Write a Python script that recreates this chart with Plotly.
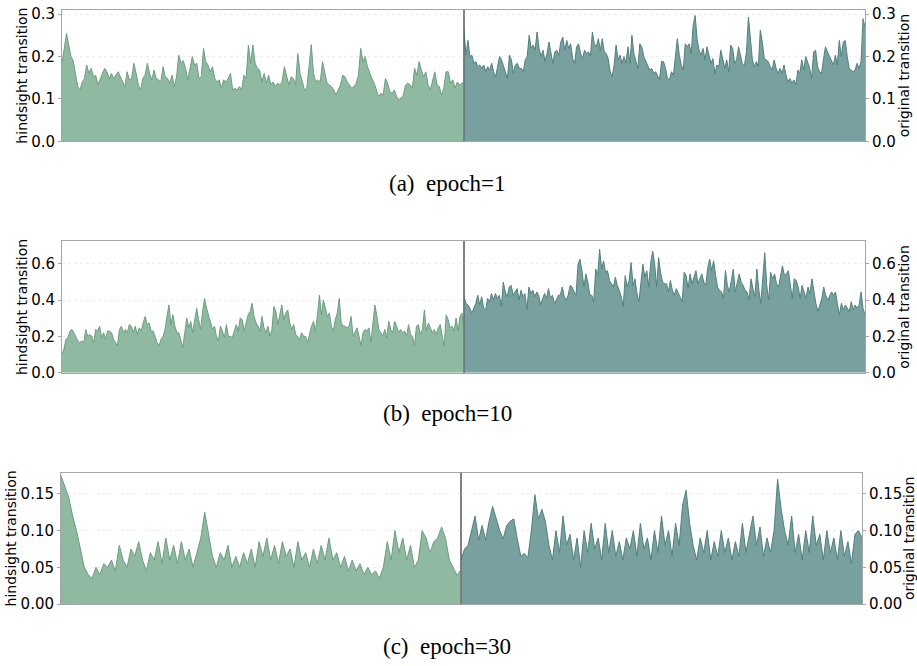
import numpy as np
import plotly.graph_objects as go

# ---------------- data ----------------
CAPTIONS = ["(a)\u2002epoch=1", "(b)\u2002epoch=10", "(c)\u2002epoch=30"]
LEFT_TITLE = "hindsight transition"
RIGHT_TITLE = "original transition"

P1_HINDSIGHT = [
    0.184, 0.22, 0.254, 0.227, 0.2, 0.19, 0.16, 0.129, 0.121, 0.14, 0.148, 0.18, 0.16, 0.172, 0.152,
    0.156, 0.133, 0.148, 0.16, 0.172, 0.164, 0.148, 0.16, 0.148, 0.156, 0.164, 0.152, 0.14, 0.129,
    0.164, 0.145, 0.148, 0.184, 0.16, 0.133, 0.121, 0.148, 0.156, 0.184, 0.16, 0.145, 0.168, 0.148,
    0.145, 0.14, 0.176, 0.152, 0.148, 0.137, 0.156, 0.129, 0.152, 0.203, 0.184, 0.19, 0.172, 0.145,
    0.172, 0.2, 0.18, 0.184, 0.148, 0.152, 0.219, 0.188, 0.18, 0.164, 0.176, 0.148, 0.14, 0.145,
    0.125, 0.145, 0.14, 0.148, 0.16, 0.121, 0.125, 0.121, 0.129, 0.121, 0.156, 0.148, 0.227, 0.184,
    0.227, 0.184, 0.172,
    0.168, 0.14, 0.16, 0.137, 0.156, 0.133, 0.14, 0.129, 0.137, 0.133, 0.14, 0.176, 0.152, 0.133,
    0.152, 0.148, 0.133, 0.207, 0.16, 0.14, 0.121, 0.125, 0.172, 0.228, 0.16, 0.14, 0.145, 0.14,
    0.188, 0.16, 0.137, 0.133, 0.129, 0.121, 0.109, 0.121, 0.133, 0.156, 0.152, 0.14, 0.133, 0.125,
    0.129, 0.137, 0.156, 0.219, 0.188, 0.2, 0.176, 0.16, 0.148, 0.137, 0.121, 0.105, 0.113, 0.109,
    0.148, 0.137, 0.117, 0.113, 0.121, 0.105, 0.098, 0.102, 0.109, 0.133, 0.137, 0.133, 0.125,
    0.172, 0.156, 0.188, 0.168, 0.152, 0.164, 0.133, 0.121, 0.14, 0.164, 0.133, 0.129, 0.109,
    0.125, 0.164, 0.164, 0.137, 0.145, 0.125, 0.14, 0.133, 0.137, 0.14,
]
P1_ORIGINAL = [
    0.262, 0.203, 0.238, 0.2, 0.203, 0.184, 0.188, 0.176, 0.18, 0.172, 0.18, 0.164, 0.176, 0.168,
    0.184, 0.164, 0.152, 0.176, 0.2, 0.192, 0.176, 0.164, 0.148, 0.203, 0.192, 0.16, 0.18, 0.184,
    0.172, 0.172, 0.164, 0.192, 0.2, 0.25, 0.219, 0.227, 0.215, 0.258, 0.219, 0.2, 0.215, 0.188,
    0.207, 0.234, 0.211, 0.184, 0.211, 0.215, 0.203, 0.234, 0.246, 0.215, 0.238, 0.219, 0.23,
    0.195, 0.184, 0.223, 0.23, 0.207, 0.195, 0.215, 0.207, 0.211, 0.2, 0.258, 0.23, 0.223, 0.242,
    0.215, 0.242, 0.211, 0.207, 0.195, 0.164, 0.152, 0.18, 0.227, 0.192, 0.203, 0.184, 0.2, 0.184,
    0.223, 0.184, 0.25, 0.207, 0.188, 0.172, 0.23, 0.223, 0.2, 0.188, 0.18, 0.168, 0.172, 0.16,
    0.164, 0.156, 0.145, 0.188,
    0.188, 0.172, 0.148, 0.145, 0.164, 0.156, 0.2, 0.242, 0.203, 0.18, 0.168, 0.23, 0.223, 0.23,
    0.207, 0.273, 0.297, 0.242, 0.215, 0.203, 0.219, 0.192, 0.223, 0.203, 0.184, 0.195, 0.16, 0.18,
    0.176, 0.215, 0.195, 0.172, 0.192, 0.164, 0.227, 0.219, 0.184, 0.192, 0.223, 0.2, 0.18, 0.18,
    0.211, 0.293, 0.238, 0.192, 0.176, 0.188, 0.176, 0.262, 0.234, 0.195, 0.192, 0.188, 0.176,
    0.168, 0.192, 0.172, 0.16, 0.172, 0.16, 0.18, 0.156, 0.14, 0.148, 0.137, 0.145, 0.133, 0.168,
    0.16, 0.192, 0.168, 0.2, 0.188, 0.172, 0.148, 0.211, 0.215, 0.176, 0.164, 0.16, 0.195, 0.223,
    0.211, 0.2, 0.188, 0.18, 0.203, 0.18, 0.238, 0.2, 0.234, 0.238, 0.2, 0.172, 0.168, 0.164, 0.168,
    0.184, 0.172, 0.188, 0.289, 0.27,
]

P2_HINDSIGHT = [
    0.103, 0.13, 0.184, 0.193, 0.229, 0.238, 0.22, 0.2, 0.175, 0.166, 0.175, 0.166, 0.238, 0.2,
    0.211, 0.2, 0.166, 0.238, 0.229, 0.256, 0.193, 0.22, 0.184, 0.229, 0.229, 0.22, 0.184, 0.166,
    0.148, 0.238, 0.256, 0.22, 0.238, 0.22, 0.265, 0.256, 0.22, 0.256, 0.211, 0.247, 0.229, 0.274,
    0.31, 0.265, 0.274, 0.229, 0.229, 0.2, 0.166, 0.148, 0.184, 0.2, 0.238, 0.31, 0.373, 0.265,
    0.319, 0.256, 0.22, 0.22, 0.184, 0.139, 0.22, 0.301, 0.247, 0.283, 0.22, 0.283, 0.355, 0.292,
    0.238, 0.337, 0.409, 0.355, 0.319, 0.274, 0.238, 0.256, 0.2, 0.175, 0.256, 0.229, 0.193, 0.265,
    0.2, 0.2, 0.193, 0.229, 0.265, 0.229, 0.301, 0.292, 0.229, 0.274, 0.319, 0.337, 0.382, 0.31,
    0.274, 0.256, 0.229, 0.31,
    0.247, 0.22, 0.256, 0.2, 0.238, 0.364, 0.337, 0.265, 0.328, 0.373, 0.292, 0.328, 0.346, 0.274,
    0.238, 0.265, 0.211, 0.2, 0.184, 0.22, 0.2, 0.2, 0.166, 0.211, 0.256, 0.283, 0.229, 0.319,
    0.427, 0.319, 0.4, 0.355, 0.31, 0.328, 0.256, 0.229, 0.292, 0.328, 0.409, 0.274, 0.256, 0.256,
    0.247, 0.256, 0.31, 0.2, 0.229, 0.247, 0.2, 0.148, 0.22, 0.238, 0.229, 0.247, 0.166, 0.274,
    0.373, 0.31, 0.238, 0.22, 0.2, 0.238, 0.193, 0.283, 0.238, 0.22, 0.283, 0.256, 0.22, 0.238,
    0.22, 0.229, 0.2, 0.265, 0.211, 0.2, 0.148, 0.256, 0.265, 0.211, 0.238, 0.346, 0.229, 0.274,
    0.247, 0.22, 0.238, 0.211, 0.247, 0.265, 0.2, 0.148, 0.319, 0.292, 0.247, 0.256, 0.229, 0.301,
    0.229, 0.31, 0.328, 0.22,
]
P2_ORIGINAL = [
    0.418, 0.382, 0.373, 0.355, 0.328, 0.355, 0.382, 0.427, 0.373, 0.418, 0.355, 0.346, 0.409,
    0.391, 0.436, 0.4, 0.436, 0.409, 0.427, 0.364, 0.499, 0.445, 0.418, 0.472, 0.481, 0.427, 0.445,
    0.463, 0.4, 0.454, 0.418, 0.436, 0.346, 0.472, 0.436, 0.454, 0.418, 0.445, 0.427, 0.373, 0.409,
    0.436, 0.409, 0.463, 0.409, 0.427, 0.382, 0.4, 0.427, 0.427, 0.472, 0.418, 0.4, 0.427, 0.481,
    0.472, 0.445, 0.427, 0.598, 0.625, 0.562, 0.472, 0.544, 0.499, 0.427, 0.427, 0.391, 0.571,
    0.535, 0.679, 0.571, 0.616, 0.553, 0.562, 0.508, 0.49, 0.472, 0.526, 0.481, 0.454, 0.418,
    0.364, 0.535, 0.472, 0.508, 0.607, 0.481, 0.517, 0.436, 0.391, 0.499, 0.598, 0.526, 0.562,
    0.472, 0.607, 0.67, 0.598, 0.472, 0.634, 0.553, 0.499, 0.49,
    0.49, 0.445, 0.508, 0.454, 0.427, 0.463, 0.436, 0.418, 0.391, 0.553, 0.535, 0.463, 0.544, 0.49,
    0.526, 0.562, 0.49, 0.517, 0.544, 0.499, 0.481, 0.58, 0.625, 0.562, 0.616, 0.535, 0.472, 0.454,
    0.445, 0.409, 0.562, 0.481, 0.445, 0.508, 0.571, 0.445, 0.49, 0.544, 0.499, 0.481, 0.454,
    0.445, 0.4, 0.517, 0.463, 0.418, 0.571, 0.454, 0.382, 0.535, 0.661, 0.481, 0.4, 0.553, 0.517,
    0.544, 0.49, 0.472, 0.544, 0.589, 0.535, 0.544, 0.562, 0.472, 0.409, 0.517, 0.508, 0.472, 0.409,
    0.481, 0.445, 0.409, 0.472, 0.436, 0.517, 0.436, 0.382, 0.337, 0.373, 0.409, 0.472, 0.427, 0.4,
    0.427, 0.445, 0.427, 0.445, 0.373, 0.319, 0.382, 0.346, 0.373, 0.355, 0.337, 0.391, 0.346,
    0.373, 0.355, 0.373, 0.445, 0.355, 0.319,
]

P3_HINDSIGHT = [
    0.175, 0.16, 0.145, 0.12, 0.1, 0.075, 0.05, 0.04, 0.035, 0.05, 0.04, 0.055, 0.05, 0.06, 0.045,
    0.08, 0.06, 0.05, 0.075, 0.065, 0.085, 0.06, 0.045, 0.07, 0.06, 0.085, 0.055, 0.09, 0.06, 0.08,
    0.055, 0.085, 0.06, 0.075, 0.05, 0.07, 0.09, 0.125, 0.095, 0.065, 0.05, 0.07, 0.06, 0.08, 0.05,
    0.065, 0.05, 0.07, 0.055, 0.075, 0.05, 0.085, 0.065, 0.09, 0.06, 0.08, 0.055, 0.085, 0.065,
    0.075, 0.05, 0.085, 0.06, 0.07, 0.05, 0.075, 0.055, 0.08, 0.06, 0.09, 0.06, 0.07, 0.05, 0.065,
    0.045, 0.06, 0.045, 0.055, 0.04, 0.05, 0.04, 0.045, 0.035, 0.05, 0.085, 0.06, 0.1, 0.07, 0.09,
    0.06, 0.08, 0.05, 0.06, 0.1, 0.09, 0.07, 0.085, 0.09, 0.105, 0.09, 0.06, 0.049, 0.039, 0.047,
]
P3_ORIGINAL = [
    0.06, 0.075, 0.08, 0.1, 0.12, 0.087, 0.107, 0.087, 0.113, 0.133, 0.116, 0.1, 0.089, 0.107,
    0.113, 0.116, 0.089, 0.065, 0.069, 0.063, 0.1, 0.149, 0.116, 0.129, 0.112, 0.08, 0.06, 0.1,
    0.07, 0.12, 0.08, 0.095, 0.06, 0.09, 0.05, 0.1, 0.07, 0.11, 0.075, 0.09, 0.06, 0.11, 0.07, 0.1,
    0.065, 0.085, 0.06, 0.09, 0.075, 0.1, 0.065, 0.11, 0.075, 0.09, 0.06, 0.1, 0.07, 0.12, 0.08,
    0.1, 0.065, 0.11, 0.08, 0.135, 0.155, 0.11, 0.08, 0.06, 0.09, 0.07, 0.1, 0.06, 0.085, 0.065,
    0.1, 0.07, 0.09, 0.06, 0.085, 0.065, 0.11, 0.07, 0.095, 0.12, 0.08, 0.105, 0.065, 0.09, 0.07,
    0.1, 0.17, 0.13, 0.1, 0.08, 0.12, 0.07, 0.095, 0.06, 0.1, 0.07, 0.12, 0.08, 0.095, 0.06, 0.1,
    0.07, 0.09, 0.06, 0.1, 0.065, 0.085, 0.055, 0.095, 0.1, 0.09,
]

Y_MAX = [0.31, 0.724, 0.179]
Y_TICKS = [[0.0, 0.1, 0.2, 0.3], [0.0, 0.2, 0.4, 0.6], [0.0, 0.05, 0.10, 0.15]]
Y_TICKTEXT = [["0.0", "0.1", "0.2", "0.3"], ["0.0", "0.2", "0.4", "0.6"],
              ["0.00", "0.05", "0.10", "0.15"]]

PANELS = [(P1_HINDSIGHT, P1_ORIGINAL), (P2_HINDSIGHT, P2_ORIGINAL), (P3_HINDSIGHT, P3_ORIGINAL)]

# ---------------- style ----------------
W, H = 917, 666
GREEN_FILL, GREEN_LINE = "#8fb9a0", "#6b9e80"
TEAL_FILL, TEAL_LINE = "#78a09e", "#4f817e"
FRAME = "#a6a6a6"
DIVIDER = "#5a5a5a"
TICK_FONT = dict(family="DejaVu Sans", size=15, color="black")
TITLE_FONT = dict(family="DejaVu Sans", size=14, color="black")
CAP_FONT = dict(family="Liberation Serif", size=23, color="black")

# pixel layout of the three panel boxes: (left, divider, right, top, bottom)
BOXES = [(62, 464, 865, 6, 140), (62, 464, 865, 242, 376), (61, 461, 862, 478, 612)]
CAPTION_Y = [183, 418, 655]
CAPTION_X = 447

HALF = 1.0  # each half of a panel spans one unit of sample position

fig = go.Figure()
layout = {}

for i, ((left_vals, right_vals), box) in enumerate(zip(PANELS, BOXES)):
    xl, xm, xr, yt, yb = box
    kl, kr = 2 * i + 1, 2 * i + 2
    sl = "" if kl == 1 else str(kl)
    sr = str(kr)

    x_left = np.linspace(0, HALF, len(left_vals))
    x_right = np.linspace(0, HALF, len(right_vals))

    fig.add_trace(go.Scatter(
        x=x_left, y=left_vals, mode="lines", fill="tozeroy",
        fillcolor=GREEN_FILL, line=dict(color=GREEN_LINE, width=1),
        xaxis="x" + sl, yaxis="y" + sl, showlegend=False, hoverinfo="skip"))
    fig.add_trace(go.Scatter(
        x=x_right, y=right_vals, mode="lines", fill="tozeroy",
        fillcolor=TEAL_FILL, line=dict(color=TEAL_LINE, width=1),
        xaxis="x" + sr, yaxis="y" + sr, showlegend=False, hoverinfo="skip"))

    ydom = [1 - yb / H, 1 - yt / H]
    common_x = dict(range=[0, HALF], showticklabels=False, ticks="", showgrid=False,
                    zeroline=False, showline=True, mirror=True, linecolor=FRAME, linewidth=1)
    layout["xaxis" + sl] = dict(common_x, domain=[xl / W, xm / W], anchor="y" + sl)
    layout["xaxis" + sr] = dict(common_x, domain=[xm / W, xr / W], anchor="y" + sr)

    common_y = dict(range=[0, Y_MAX[i]], domain=ydom, tickvals=Y_TICKS[i],
                    ticktext=Y_TICKTEXT[i], tickfont=TICK_FONT, ticks="outside", ticklen=3,
                    tickcolor=FRAME, showgrid=True, gridcolor="#ededed", griddash="dot",
                    gridwidth=1, zeroline=False, showline=True, mirror=True,
                    linecolor=FRAME, linewidth=1)
    layout["yaxis" + sl] = dict(common_y, anchor="x" + sl, side="left",
                                title=dict(text=LEFT_TITLE, font=TITLE_FONT, standoff=0))
    layout["yaxis" + sr] = dict(common_y, anchor="x" + sr, side="right",
                                title=dict(text=RIGHT_TITLE, font=TITLE_FONT, standoff=0))

shapes = []
annotations = []
for box, cap, cy in zip(BOXES, CAPTIONS, CAPTION_Y):
    xl, xm, xr, yt, yb = box
    shapes.append(dict(type="line", xref="paper", yref="paper",
                       x0=xm / W, x1=xm / W, y0=1 - yb / H, y1=1 - yt / H,
                       line=dict(color=DIVIDER, width=1), layer="above"))
    annotations.append(dict(text=cap, xref="paper", yref="paper",
                            x=CAPTION_X / W, y=1 - cy / H,
                            xanchor="center", yanchor="middle", showarrow=False, font=CAP_FONT))

fig.update_layout(
    width=W, height=H,
    margin=dict(l=0, r=0, t=0, b=0),
    paper_bgcolor="white", plot_bgcolor="white",
    shapes=shapes, annotations=annotations,
    **layout,
)

fig.write_html("out.html")
